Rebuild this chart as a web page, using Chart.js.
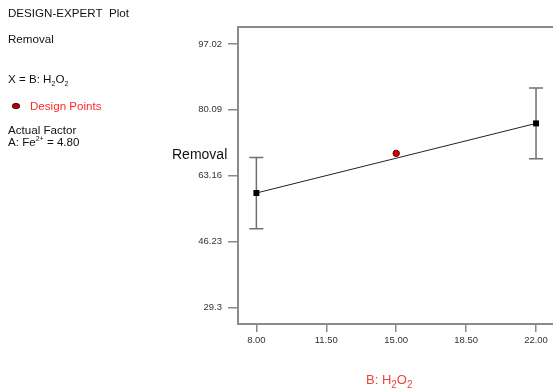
<!DOCTYPE html>
<html>
<head>
<meta charset="utf-8">
<script src="https://cdn.jsdelivr.net/npm/chart.js"></script>
<style>
  body { margin: 0; background: #fff; }
  #wrap { position: relative; width: 553px; height: 391px; overflow: hidden; font-family: "Liberation Sans", Arial, sans-serif; }
  #plot { position: absolute; left: 0; top: 0; }
  .t { position: absolute; font-size: 11.6px; line-height: 13px; color: #111; white-space: nowrap; }
  .t sub, .t sup { font-size: 7px; line-height: 0; }
  .dot { position: absolute; width: 6px; height: 4px; border-radius: 50%; background: #c00000; border: 1px solid #400; }
</style>
</head>
<body>
<div id="wrap">
  <canvas id="plot" width="553" height="391"></canvas>

  <div class="t" style="left:8px; top:6px;">DESIGN-EXPERT&nbsp; Plot</div>
  <div class="t" style="left:8px; top:32px;">Removal</div>
  <div class="t" style="left:8px; top:72px;">X = B: H<sub>2</sub>O<sub>2</sub></div>
  <div class="dot" style="left:12px; top:103px;"></div>
  <div class="t" style="left:30px; top:99px; color:#ff2a2a;">Design Points</div>
  <div class="t" style="left:8px; top:123px;">Actual Factor</div>
  <div class="t" style="left:8px; top:135px;">A: Fe<sup>2+</sup> = 4.80</div>

  <div class="t" style="left:172px; top:146px; font-size:14px; line-height:16px;">Removal</div>
  <div class="t" style="left:366px; top:372px; font-size:13px; line-height:15px; color:#f04040;">B: H<sub style="font-size:10px">2</sub>O<sub style="font-size:10px">2</sub></div>
</div>

<script>
// factor levels (B: H2O2) and predicted removal with confidence band
const levels = [8, 22];
const predicted = [58.7, 76.6];
const lowerCI = [49.5, 67.5];
const upperCI = [67.8, 85.7];

// actual design point
const designX = [15];
const designY = [68.9];

// axis ticks
const xTicks = [8, 11.5, 15, 18.5, 22];
const yTicks = [29.3, 46.23, 63.16, 80.09, 97.02];

const frameColor = '#8a8a8a';

const errorBars = {
  id: 'errorBars',
  beforeDatasetsDraw(chart) {
    const ctx = chart.ctx;
    const xs = chart.scales.x, ys = chart.scales.y;
    ctx.save();
    ctx.strokeStyle = '#707070';
    ctx.lineWidth = 1.5;
    for (let i = 0; i < levels.length; i++) {
      const px = xs.getPixelForValue(levels[i]);
      const top = ys.getPixelForValue(upperCI[i]);
      const bot = ys.getPixelForValue(lowerCI[i]);
      ctx.beginPath();
      ctx.moveTo(px, top); ctx.lineTo(px, bot);
      ctx.moveTo(px - 7, top); ctx.lineTo(px + 7, top);
      ctx.moveTo(px - 7, bot); ctx.lineTo(px + 7, bot);
      ctx.stroke();
    }
    ctx.restore();
  }
};

new Chart(document.getElementById('plot'), {
  type: 'line',
  data: {
    datasets: [{
      data: levels.map((v, i) => ({ x: v, y: predicted[i] })),
      borderColor: '#222',
      borderWidth: 1,
      pointStyle: 'rect',
      pointRadius: 4.2,
      pointBackgroundColor: '#000',
      pointBorderColor: '#000',
      pointBorderWidth: 0,
      tension: 0
    }, {
      data: designX.map((v, i) => ({ x: v, y: designY[i] })),
      showLine: false,
      pointStyle: 'circle',
      pointRadius: 3.2,
      pointBackgroundColor: '#e00000',
      pointBorderColor: '#500',
      pointBorderWidth: 1
    }]
  },
  options: {
    responsive: false,
    animation: false,
    layout: { autoPadding: false, padding: { left: 178, top: 27, right: 0, bottom: 37 } },
    plugins: { legend: { display: false }, tooltip: { enabled: false } },
    scales: {
      x: {
        type: 'linear', position: 'bottom', min: 7.08, max: 22.85,
        afterBuildTicks: s => { s.ticks = xTicks.map(v => ({ value: v })); },
        afterFit: s => { s.height = 30; s.paddingLeft = 0; s.paddingRight = 0; },
        grid: { display: true, drawOnChartArea: false, drawTicks: true, tickLength: 8, color: frameColor, lineWidth: 1.5 },
        border: { display: true, color: frameColor, width: 2 },
        ticks: { padding: 3, color: '#333', font: { family: 'Liberation Sans', size: 9.5 }, maxRotation: 0, callback: v => v.toFixed(2) }
      },
      x2: {
        type: 'linear', position: 'top', min: 7.08, max: 22.85,
        afterFit: s => { s.height = 0; s.paddingLeft = 0; s.paddingRight = 0; },
        grid: { display: false },
        ticks: { display: false },
        border: { display: true, color: frameColor, width: 2 }
      },
      y: {
        type: 'linear', min: 25.0, max: 101.4,
        afterBuildTicks: s => { s.ticks = yTicks.map(v => ({ value: v })); },
        afterFit: s => { s.width = 60; s.paddingTop = 0; s.paddingBottom = 0; },
        grid: { display: true, drawOnChartArea: false, drawTicks: true, tickLength: 10, color: frameColor, lineWidth: 1.5 },
        border: { display: true, color: frameColor, width: 2 },
        ticks: { padding: 6, color: '#333', font: { family: 'Liberation Sans', size: 9.5 }, callback: v => String(v) }
      }
    }
  },
  plugins: [errorBars]
});
</script>
</body>
</html>
